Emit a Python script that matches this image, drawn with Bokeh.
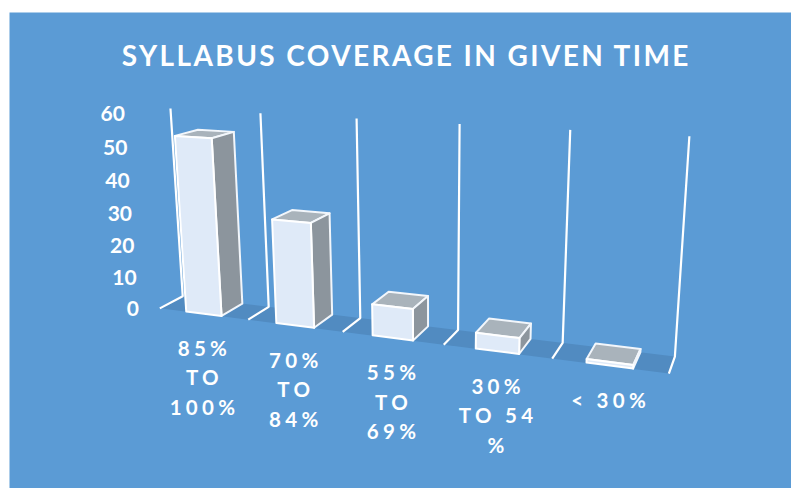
import numpy as np
from bokeh.plotting import figure
from bokeh.document import Document
from bokeh.embed import file_html
from bokeh.resources import INLINE
from bokeh.core.properties import value
from bokeh.models import CustomJS

title_text = "SYLLABUS COVERAGE IN GIVEN TIME"
categories = [["85%", "TO", "100%"], ["70%", "TO", "84%"], ["55%", "TO", "69%"], ["30%", "TO 54", "%"], ["< 30%"]]
values = [54, 31.5, 9.3, 4.6, 1.0]
ticks = [0, 10, 20, 30, 40, 50, 60]

# camera of the 3-D view: category position, depth, value -> page pixel
CAM = np.array([[80.5451414, 29.5207701, -0.3507581, 159.3267654],
                [1.1645471, -1.3100453, -3.3322599, 307.8569169],
                [-0.0318116, 0.0362765, -0.000817, 1.0]])

def proj(u, d, h):
    v = CAM @ np.array([u, d, h, 1.0])
    return float(v[0] / v[2]), float(v[1] / v[2])

def poly(*corners):
    pts = [proj(*c) for c in corners]
    return [q[0] for q in pts], [q[1] for q in pts]

BG = "#5b9bd5"
n = len(values)
YMAX = ticks[-1]

p = figure(width=791, height=488, x_range=(0, 791), y_range=(488, 0),
           output_backend="svg", toolbar_location=None,
           min_border=0, outline_line_color=None, background_fill_color="white",
           border_fill_color="white")
p.axis.visible = False
p.grid.visible = False

p.quad(left=[9], right=[791], top=[12], bottom=[488], fill_color=BG, line_color=None)

# floor
xs, ys = poly((0, 0, 0), (n, 0, 0), (n, 1, 0), (0, 1, 0))
p.patch(xs, ys, fill_color="#518bc1", line_color=None)

# grid lines on the walls and floor
for i in range(n + 1):
    xs, ys = poly((i, 0, 0), (i, 1, 0), (i, 1, YMAX))
    p.line(xs, ys, line_color="white", line_width=2.2)

# bars
HW, D0, D1 = 0.2, 0.02, 1.0
for i, v in enumerate(values):
    a, b = i + 0.5 - HW, i + 0.5 + HW
    top = poly((a, D0, v), (b, D0, v), (b, D1, v), (a, D1, v))
    side = poly((b, D0, 0), (b, D1, 0), (b, D1, v), (b, D0, v))
    front = poly((a, D0, 0), (b, D0, 0), (b, D0, v), (a, D0, v))
    p.patch(*top, fill_color="#a9b3bb", line_color="#f2f6fb", line_width=2, line_join="round")
    p.patch(*side, fill_color="#8c959d", line_color="#f2f6fb", line_width=2, line_join="round")
    p.patch(*front, fill_color="#dfeaf8", line_color="white", line_width=2, line_join="round")

FONT = value("Lato")
# value labels down the front edge of the wall
for t in ticks:
    x, y = proj(0, 0, t)
    p.text([x - 21], [y], text=[str(t)], text_color="white", text_font=FONT, text_font_style="bold",
           text_font_size="21px", text_align="right", text_baseline="middle")

# category labels under the front edge of the floor
for i, lines in enumerate(categories):
    x, y = proj(i + 0.5, 0, 0)
    for j, line in enumerate(lines):
        p.text([x - 1], [y + 34 + j * 29.5], text=[line], text_color="white", text_font=FONT,
               text_font_style="bold", text_font_size="20.5px", text_align="center", text_baseline="middle")

p.text([405], [54], text=[title_text], text_color="white", text_font=FONT, text_font_style="bold",
       text_font_size="28px", text_align="center", text_baseline="middle")

# letter spacing of the title and the category labels
spaced = [line for lines in categories for line in lines]
js = """
function apply(el, s){
  el.setAttribute('letter-spacing', s + 'px');
  el.setAttribute('dx', -(el.textContent.length - 1) * s / 2);
}
function walk(root){
  root.querySelectorAll('*').forEach(el=>{
    if(el.shadowRoot) walk(el.shadowRoot);
    if(el.tagName.toLowerCase()==='text'){
      const t=el.textContent;
      if(t===title) apply(el, 2.4);
      else if(spaced.includes(t)) apply(el, 4.3);
    }
  });
}
function go(){walk(document);}
go(); setTimeout(go,50); setTimeout(go,300);
"""
doc = Document()
doc.add_root(p)
doc.js_on_event("document_ready", CustomJS(args=dict(title=title_text, spaced=spaced), code=js))

open("out.html", "w").write(file_html(doc, INLINE))
